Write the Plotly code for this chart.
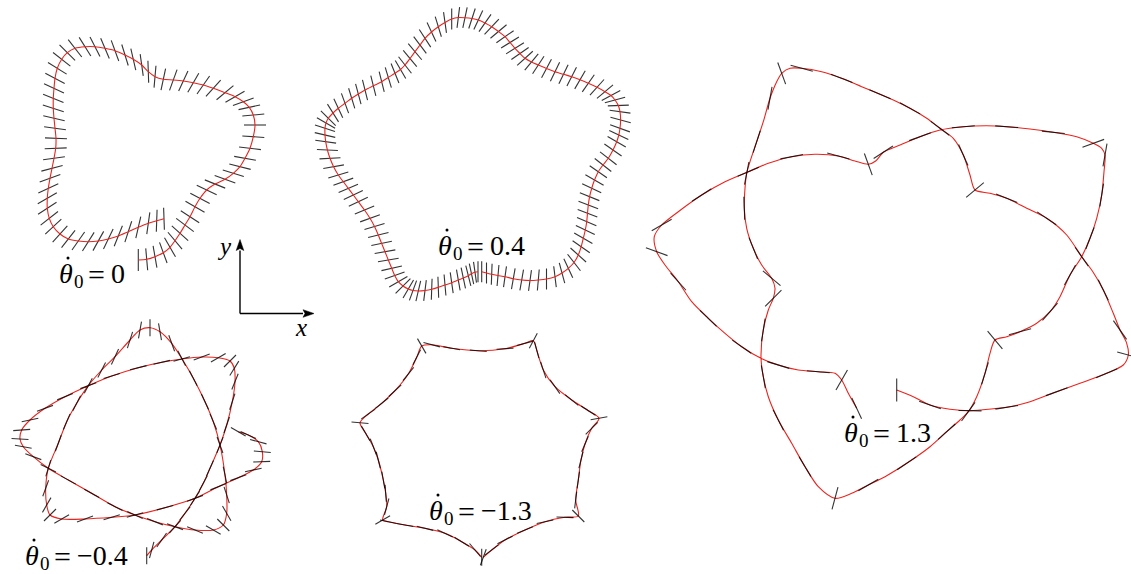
import numpy as np
import plotly.graph_objects as go

# ---- trajectories (pixel-space coordinates) and body orientation (deg) ----
# theta_dot_0 = 0
p1_x = [138.3,146.7,155,163.3,170,175,180,185,190,195,200,206.7,215,225,233.3,240,245,250,253.3,255,
        253.3,249.3,243.3,235,225,213.3,203.3,193.3,183.3,173.3,163.3,155,148.3,141.7,133.3,125,115,105,95,85,
        75,67.3,61.7,57.3,55,54,53.3,53.3,54,55,56,55.7,54,52,50,48.3,47.3,47.3,49.3,53.3,
        60,68.3,78.3,88.3,98.3,108.3,118.3,128.3,138.3,148.3,156.7,164]
p1_y = [260,259.3,256.7,252.7,247.3,240.7,233.3,225,216.7,206.7,198.3,190,184,179.3,173.3,166.7,158.3,148.3,136.7,125,
        115,107.3,101.7,96.7,92.7,88.3,85,82.7,81,80,79.3,76.7,71.7,65,59.3,55,50.7,48.3,46.7,46.7,
        48.3,52.7,59.3,68.3,78.3,88.3,98.3,108.3,118.3,128.3,138.3,148.3,158.3,168.3,178.3,188.3,198.3,208.3,218.3,226.7,
        234,239,241,241.7,241,239,236,231.7,227.3,223.3,220.7,218.7]
p1_ang = [90,95,100,110,120,130,138,143,147,150,152,155,158,160,163,166,170,173,176,180,
          185,192,200,210,220,228,235,240,245,250,258,265,272,278,283,287,290,293,297,302,
          308,315,322,328,332,335,338,342,347,352,358,362,368,375,380,385,390,393,398,403,
          408,412,415,418,421,424,428,432,437,442,448,452]

# theta_dot_0 = 0.4
p2_x = [478.0,475.0,471.5,468.3,463.3,458.3,451.7,445.0,438.3,431.7,425.0,418.3,413.0,408.3,403.0,398.3,394.7,391.7,388.3,385.0,
        381.6,378.3,374.5,370.0,364.5,358.3,353.3,348.3,343.3,338.3,333.6,330.0,327.4,325.7,325.0,325.0,326.0,328.3,333.0,338.3,
        345.0,351.7,358.3,365.0,373.3,381.7,388.3,395.0,400.5,405.0,410.0,415.0,420.0,425.0,431.5,438.3,445.0,451.7,458.3,465.0,
        472.0,478.3,485.0,491.7,498.5,505.0,510.0,515.0,520.0,525.0,531.5,538.3,546.5,555.0,563.5,571.7,580.0,588.3,597.0,605.0,
        611.0,615.0,618.3,620.0,620.6,620.0,618.8,616.7,613.0,608.3,603.0,598.3,594.5,591.7,589.6,588.3,587.5,586.7,585.3,583.3,
        581.2,578.3,574.0,568.3,562.0,555.0,546.5,538.3,530.0,521.7,513.3,505.0,498.0,491.7,486.5,481.7]
p2_y = [271.7,272.3,273.8,275.7,278.0,280.0,282.7,285.0,287.3,289.3,290.5,291.0,290.5,289.0,286.0,281.7,275.5,268.3,260.0,251.7,
        243.4,235.0,226.5,218.3,210.0,201.7,195.0,188.3,181.7,175.0,166.7,158.3,150.0,141.7,135.0,128.3,123.0,118.3,113.0,108.3,
        103.3,98.3,94.0,90.0,85.8,81.7,77.5,73.3,69.5,65.0,58.5,51.7,45.0,38.3,32.0,26.7,22.5,19.0,17.5,17.7,
        18.5,20.0,23.0,26.7,31.5,36.7,42.5,48.3,53.5,58.3,62.0,65.0,68.5,71.7,74.3,76.7,79.8,83.3,87.3,91.7,
        95.5,100.0,105.5,111.7,120.0,128.3,135.0,141.7,150.0,158.3,165.0,171.7,180.0,188.3,196.7,205.0,213.3,221.7,230.0,238.3,
        246.7,255.0,262.5,268.3,273.0,276.7,279.0,280.0,280.5,280.0,278.7,276.7,275.5,274.3,273.0,271.7]
p2_ang = [-90,-82,-78,-76,-78,-80,-82,-85,-88,-92,-97,-103,-110,-120,-135,-150,-160,-167,-170,-170,
          -168,-166,-163,-160,-157,-155,-155,-157,-160,-163,-170,-177,-183,-188,-193,-198,-210,-225,-238,-245,
          -250,-253,-255,-256,-256,-256,-253,-248,-240,-232,-230,-230,-233,-237,-245,-253,-262,-270,-277,-282,
          -288,-295,-305,-313,-320,-325,-328,-328,-325,-318,-310,-303,-298,-296,-296,-297,-300,-305,-312,-320,
          -332,-345,-358,-368,-375,-380,-385,-390,-395,-398,-398,-395,-390,-385,-382,-381,-381,-383,-386,-390,
          -395,-402,-412,-425,-435,-443,-450,-455,-458,-460,-460,-458,-455,-452,-450,-450]

# theta_dot_0 = -0.4
p3_x = [146.7,151.7,161.7,175,185,195,203.3,210,220,226.7,232.3,235,234.3,230,218.3,201.7,181.7,161.7,138.3,111.7,
        88.3,65,45,30,21.7,20,23.3,33.3,48.3,68.3,91.7,115,135,155,175,195,213.3,223.3,226.7,226.7,
        225,220,213.3,205,193.3,181.7,171.7,160,150,140,130,115,101.7,88.3,76.7,66.7,58.3,48.3,45.7,46.7,
        50,61.7,85,111.7,135,165,195,218.3,238.3,253.3,261.7,262.3,258.3,248.3,238.3]
p3_y = [555.7,550,540,526.7,513.3,498.3,483.3,468.3,445,425,401.7,381.7,368.3,361,357.7,357,359,362.3,367.7,376,
        385.7,396.7,408.3,420,430,439,446.7,456.7,468.3,480,493.3,506.7,515,521.7,526.7,530,530,525,513.3,495,
        475,445,421.7,401.7,378.3,358.3,343.3,331.7,327.7,330,340,356.7,370,385.7,403.3,421.7,443.3,468.3,488.3,505,
        515,519,519,517.3,515,507.7,498.3,486.7,477.7,470,461.7,451.7,441.7,435,431.7]
p3_ang = [90,75,55,48,52,57,62,66,68,71,72,68,58,45,30,20,15,13,14,17,
          20,22,20,12,4,-3,-10,-20,-26,-29,-29,-27,-25,-22,-20,-22,-30,-45,-60,-72,
          -78,-70,-67,-65,-63,-63,-70,-80,-90,-100,-108,-115,-117,-118,-117,-113,-110,-107,-110,-120,
          -135,-150,-160,-163,-165,-165,-160,-158,-160,-168,-178,-185,-195,-205,-210]

# theta_dot_0 = -1.3
p4_x = [481.7,475,461.7,445,425,405,388.3,382.7,386.7,385.7,383.3,378.3,373.3,365.7,360,368.3,381.7,395,408.3,416.7,
        421.7,431.7,451.7,478.3,505,525,533.3,536.7,543.3,555,571.7,588.3,599,591.7,585,581,578.3,575.7,578.3,565,
        545,525,505,491.7,483.3]
p4_y = [557.3,550,541.7,533.3,528.3,525,521.7,520,506.7,493.3,480,460,446.7,433.3,422.7,414,403.3,390.7,374,357.3,
        346,344.7,348.3,350.7,348.7,343.3,340.7,350,370,386.7,400,410.7,418.3,428.3,444,460,480,500,516,517.3,
        521.7,530,540,550,557.3]
p4_ang = [90,130,148,155,166,170,168,30,75,94,100,104,111,120,175,35,39,43,51,63,
          120,165,170,175,4,15,62,105,108,125,141,147,10,45,67,76,82,83,135,178,
          12,23,27,37,70]

# theta_dot_0 = 1.3
p5_x = [896.7,913.3,930,950,970,980,1006.7,1030,1056.7,1080,1106.7,1123.3,1128.3,1126.7,1120,1113.3,1103.3,1093,1081.7,1066.7,
        1046.7,1026.7,1006.7,990,975,970,963.3,953.3,940,926.7,910,893.3,880,861.7,841.7,821.7,801.7,790,781.7,776.7,
        770,763.3,756.7,750,746.7,745,744.3,746.7,753.3,761.7,771.7,775,773.3,768.3,763.3,761,763.3,768.3,778.3,791.7,
        805,818.3,835,851.7,868.3,885,906.7,930,946.7,960,968.3,976.7,985,990,995,1006.7,1020,1036.7,1050,1060,
        1070,1081.7,1090,1096.7,1101.7,1104,1105,1101.7,1093.3,1076.7,1053.3,1030,1006.7,986.7,963.3,940,920,900,883.3,875.7,
        868.3,855,838.3,815,791.7,768.3,748.3,725,701.7,678.3,661.7,654.3,656.7,665,678.3,691.7,708.3,725,741.7,761,
        778.3,798.3,818.3,835,841.7,848.3,856.7]
p5_y = [390,396.7,405,409.3,410.7,410,407.3,401.7,391.7,383.3,373.3,365,355,343.3,330,313.3,290,272,256.7,235,
        218.3,208.3,198.3,193.3,190,175,155,138.3,128.3,118.3,108.3,100,94.3,86.7,78.3,71.7,68.3,68.3,73.3,81.7,
        98.3,121.7,141.7,161.7,173.3,188.3,208.3,228.3,248.3,265,278.3,288.3,298.3,310,330,356.7,376.7,396.7,420,443.3,
        466.7,486.7,498.3,493.3,485,476.7,463.3,446.7,431.7,420,411.7,396.7,373.3,353.3,340,336.7,331.7,323.3,311.7,296.7,
        275,256.7,238.3,218.3,195,171.7,155,148.3,143.3,136.7,132.3,129,126.7,125.7,126.7,130,136.7,145,152.3,161,
        164.3,161,156,154.3,156.7,163.3,171.7,181.7,195,211.7,225,236.7,251.7,265,281.7,301.7,318.3,333.3,346.7,358.3,
        365,370,371.7,373.3,380,393.3,408.3]
p5_ang = [90,156,161,172,179,5,9,17,20,20,23,10,-15,-35,-55,-63,-64,-57,-55,-48,
          -34,-27,-22,-15,40,-72,-66,-49,-37,-34,-29,-25,-23,-23,-21,-14,-15,-45,-70,90,
          80,75,72,72,79,86,92,103,112,121,140,175,45,62,81,90,100,109,117,120,
          121,110,75,45,30,29,34,38,42,43,54,66,73,85,130,5,15,34,49,61,
          61,61,69,75,81,85,80,45,20,5,-6,-7,-4,0,5,13,20,23,33,70,
          110,145,165,179,11,19,23,27,33,37,30,5,-20,-40,-48,-51,-44,-40,-35,-27,
          -17,-10,-5,30,60,100,115]

labels = ["0", "0.4", "\u22120.4", "\u22121.3", "1.3"]

# ---- drawing ----
W, H = 1131, 574
RED = "rgb(236,36,30)"
STICK = "rgba(0,0,0,0.8)"
FONT = "Liberation Serif"

# (x, y, angle, stick length, draw every n-th stick, sticks drawn over the red path?)
panels = [
    (p1_x, p1_y, p1_ang, 22, 1, False),
    (p2_x, p2_y, p2_ang, 21, 1, False),
    (p3_x, p3_y, p3_ang, 17, 1, True),
    (p4_x, p4_y, p4_ang, 17, 1, True),
    (p5_x, p5_y, p5_ang, 23, 2, True),
]
# left edge / vertical centre of each label
label_pos = [(57, 273), (436, 245), (23, 555), (427, 510), (842, 432)]


def stick_segments(xs, ys, angs, length, step):
    sx, sy = [], []
    for x, y, a in list(zip(xs, ys, angs))[::step]:
        r = np.radians(a)
        dx = 0.5 * length * np.cos(r)
        dy = -0.5 * length * np.sin(r)   # screen y grows downward
        sx += [x - dx, x + dx, None]
        sy += [y - dy, y + dy, None]
    return sx, sy


def red_path(xs, ys):
    return go.Scatter(x=xs, y=ys, mode="lines",
                      line=dict(color=RED, width=1.1, shape="spline", smoothing=0.8),
                      hoverinfo="skip")


fig = go.Figure()
for xs, ys, angs, L, step, on_top in panels:
    if on_top:
        fig.add_trace(red_path(xs, ys))
    sx, sy = stick_segments(xs, ys, angs, L, step)
    fig.add_trace(go.Scatter(x=sx, y=sy, mode="lines",
                             line=dict(color=STICK, width=1.1),
                             hoverinfo="skip"))
    if not on_top:
        fig.add_trace(red_path(xs, ys))

annotations = []
shapes = []
for (lx, ly), val in zip(label_pos, labels):
    common = dict(xref="x", yref="y", xanchor="left", yanchor="middle", showarrow=False)
    annotations.append(dict(x=lx, y=ly, text="\u03b8",
                            font=dict(family=FONT, size=28, color="black", style="italic"), **common))
    annotations.append(dict(x=lx + 15, y=ly + 8, text="0",
                            font=dict(family=FONT, size=19, color="black"), **common))
    annotations.append(dict(x=lx + 29, y=ly + 1, text="=",
                            font=dict(family=FONT, size=30, color="black"), **common))
    annotations.append(dict(x=lx + 52, y=ly, text=val,
                            font=dict(family=FONT, size=28, color="black"), **common))
    # overdot of theta-dot
    cx, cy, r = lx + 11, ly - 15, 1.5
    shapes.append(dict(type="circle", xref="x", yref="y", x0=cx - r, x1=cx + r, y0=cy - r, y1=cy + r,
                       fillcolor="black", line=dict(width=0)))

annotations.append(dict(x=224, y=246, xref="x", yref="y", showarrow=False, text="y",
                        font=dict(family=FONT, size=25, color="black", style="italic")))
annotations.append(dict(x=301, y=327, xref="x", yref="y", showarrow=False, text="x",
                        font=dict(family=FONT, size=25, color="black", style="italic")))

# coordinate frame indicator (arrows drawn as shapes)
ox, oy, arm, head, half = 240, 313.5, 74, 11, 3.8
shapes += [
    dict(type="line", x0=ox, y0=oy, x1=ox, y1=oy - arm + head, xref="x", yref="y",
         line=dict(color="black", width=1.4)),
    dict(type="line", x0=ox, y0=oy, x1=ox + arm - head, y1=oy, xref="x", yref="y",
         line=dict(color="black", width=1.4)),
    dict(type="path", xref="x", yref="y", fillcolor="black", line=dict(color="black", width=0.5),
         path=f"M {ox},{oy - arm} L {ox - half},{oy - arm + head} L {ox},{oy - arm + head - 2} "
              f"L {ox + half},{oy - arm + head} Z"),
    dict(type="path", xref="x", yref="y", fillcolor="black", line=dict(color="black", width=0.5),
         path=f"M {ox + arm},{oy} L {ox + arm - head},{oy - half} L {ox + arm - head + 2},{oy} "
              f"L {ox + arm - head},{oy + half} Z"),
]

fig.update_layout(
    width=W, height=H,
    margin=dict(l=0, r=0, t=0, b=0),
    paper_bgcolor="white", plot_bgcolor="white",
    showlegend=False,
    xaxis=dict(range=[0, W], visible=False, fixedrange=True),
    yaxis=dict(range=[H, 0], visible=False, fixedrange=True),
    annotations=annotations,
    shapes=shapes,
)

fig.write_html("out.html", config={"displayModeBar": False})
